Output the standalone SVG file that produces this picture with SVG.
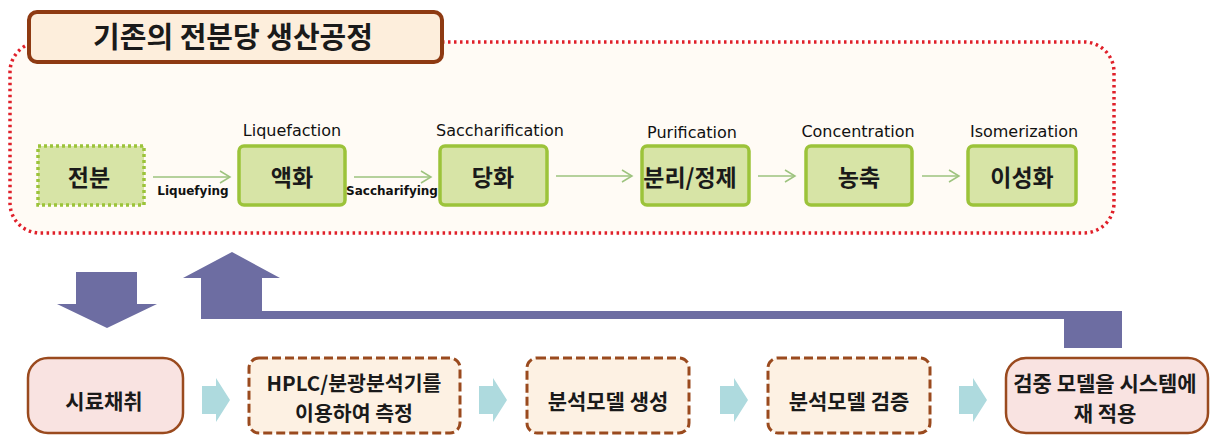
<svg xmlns="http://www.w3.org/2000/svg" width="1213" height="435" viewBox="0 0 1213 435">
<defs>
<style>
.ko{font-family:"Noto Sans CJK KR","Noto Sans",sans-serif;font-weight:bold;fill:#1a1a1a;text-anchor:middle}
.lab{font-family:"DejaVu Sans",sans-serif;font-size:16px;fill:#111;text-anchor:middle}
.clab{font-family:"DejaVu Sans",sans-serif;font-weight:bold;font-size:12px;fill:#111;text-anchor:middle}
.gbox{fill:#D7E4A6;stroke:#9CC33A;stroke-width:3.5}
.gline{stroke:#9DC37E;stroke-width:1.5;fill:none}
.dbox{fill:#FDF1E3;stroke:#9A4A1E;stroke-width:3;stroke-dasharray:9 4}
.pbox{fill:#F9E3E1;stroke:#9A4A1E;stroke-width:2.5}
.cyan{fill:#AEDADE}
.purple{fill:#6D6DA2}
</style>
<marker id="oa" markerWidth="14" markerHeight="14" refX="11" refY="7" orient="auto" markerUnits="userSpaceOnUse">
<path d="M1,1 L11,7 L1,13" fill="none" stroke="#9DC37E" stroke-width="1.5"/>
</marker>
</defs>
<rect width="1213" height="435" fill="#ffffff"/>

<g id="container">
<rect x="10" y="42" width="1104" height="191" rx="30" ry="30" fill="#FFFBF5" stroke="#E0202A" stroke-width="3.5" stroke-dasharray="2.5 3.5"/>
</g>

<g id="title">
<rect x="29" y="12" width="413" height="50" rx="8" ry="8" fill="#FDEEDC" stroke="#8E3A12" stroke-width="4"/>
<text class="ko" x="233" y="48" font-size="29">기존의 전분당 생산공정</text>
</g>

<g id="node-starch">
<rect x="38" y="146" width="106" height="59" fill="#D7E4A6" stroke="#9CC33A" stroke-width="3.5" stroke-dasharray="3 3"/>
<text class="ko" x="89" y="186" font-size="23">전분</text>
</g>
<g id="node-liquefaction">
<text class="lab" x="292" y="136">Liquefaction</text>
<rect class="gbox" x="239" y="146" width="106" height="59" rx="5"/>
<text class="ko" x="292" y="186" font-size="23">액화</text>
</g>
<g id="node-saccharification">
<text class="lab" x="500" y="136">Saccharification</text>
<rect class="gbox" x="440" y="146" width="107" height="59" rx="5"/>
<text class="ko" x="493" y="186" font-size="23">당화</text>
</g>
<g id="node-purification">
<text class="lab" x="692" y="138">Purification</text>
<rect class="gbox" x="642" y="146" width="107" height="59" rx="5"/>
<text class="ko" x="690" y="186" font-size="23">분리/정제</text>
</g>
<g id="node-concentration">
<text class="lab" x="858" y="137">Concentration</text>
<rect class="gbox" x="806" y="146" width="106" height="59" rx="5"/>
<text class="ko" x="859" y="186" font-size="23">농축</text>
</g>
<g id="node-isomerization">
<text class="lab" x="1024" y="137">Isomerization</text>
<rect class="gbox" x="968" y="146" width="108" height="59" rx="5"/>
<text class="ko" x="1022" y="186" font-size="23">이성화</text>
</g>

<g id="node-sampling">
<rect class="pbox" x="28" y="358" width="155" height="75" rx="20"/>
<text class="ko" x="104" y="409" font-size="21">시료채취</text>
</g>
<g id="node-measure">
<rect class="dbox" x="249" y="358" width="211" height="75" rx="10"/>
<text class="ko" x="354" y="391" font-size="20.5">HPLC/분광분석기를</text>
<text class="ko" x="354" y="421" font-size="20.5">이용하여 측정</text>
</g>
<g id="node-model">
<rect class="dbox" x="527" y="358" width="162" height="75" rx="10"/>
<text class="ko" x="608" y="409" font-size="21">분석모델 생성</text>
</g>
<g id="node-verify">
<rect class="dbox" x="768" y="358" width="162" height="75" rx="10"/>
<text class="ko" x="849" y="409" font-size="21">분석모델 검증</text>
</g>
<g id="node-apply">
<rect class="pbox" x="1006" y="358" width="202" height="75" rx="20"/>
<text class="ko" x="1105" y="391" font-size="21">검중 모델을 시스템에</text>
<text class="ko" x="1105" y="421" font-size="21">재 적용</text>
</g>

<g id="connectors">
<line class="gline" x1="153" y1="177" x2="230" y2="177" marker-end="url(#oa)"/>
<text class="clab" x="193" y="195">Liquefying</text>
<line class="gline" x1="354" y1="177" x2="431" y2="177" marker-end="url(#oa)"/>
<text class="clab" x="392" y="195" font-size="11.5">Saccharifying</text>
<line class="gline" x1="556" y1="176" x2="632" y2="176" marker-end="url(#oa)"/>
<line class="gline" x1="758" y1="176" x2="795" y2="176" marker-end="url(#oa)"/>
<line class="gline" x1="922" y1="176" x2="959" y2="176" marker-end="url(#oa)"/>

<polygon class="purple" points="76,272 137,272 137,304 157,304 107,328 57,304 76,304"/>
<polygon class="purple" points="232,252 280,278 262,278 262,311 1122,311 1122,348 1064,348 1064,319 201,319 201,278 183,278"/>

<polygon class="cyan" points="202,386 216,386 216,378 230,400 216,422 216,414 202,414"/>
<polygon class="cyan" points="479,386 493,386 493,378 507,400 493,422 493,414 479,414"/>
<polygon class="cyan" points="720,386 734,386 734,378 748,400 734,422 734,414 720,414"/>
<polygon class="cyan" points="959,386 973,386 973,378 987,400 973,422 973,414 959,414"/>
</g>
</svg>
